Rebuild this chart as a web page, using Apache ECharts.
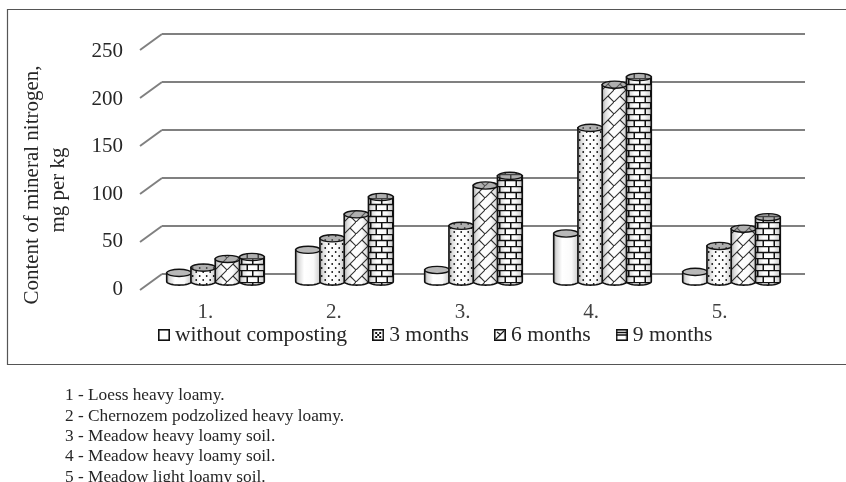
<!DOCTYPE html>
<html>
<head>
<meta charset="utf-8">
<style>html,body{margin:0;padding:0;background:#fff}#chart{width:846px;height:482px}</style>
<script src="https://cdn.jsdelivr.net/npm/echarts@6/dist/echarts.min.js"></script>
</head>
<body>
<div id="chart"></div>
<script>
// Mineral nitrogen content by soil type and composting duration
const soilIds = ['1.', '2.', '3.', '4.', '5.'];
const durations = ['without composting', '3 months', '6 months', '9 months'];
const withoutComposting = [9, 33, 12, 50, 10];
const threeMonths = [14.5, 45, 58, 160, 37];
const sixMonths = [23.5, 70, 100, 205, 55];
const nineMonths = [25.5, 88, 110, 213, 67];
const soilNotes = [
  '1 - Loess heavy loamy.',
  '2 - Chernozem podzolized heavy loamy.',
  '3 - Meadow heavy loamy soil.',
  '4 - Meadow heavy loamy soil.',
  '5 - Meadow light loamy soil.'
];
const noteRows = [395, 416, 436, 456, 477];
const yTicks = [0, 50, 100, 150, 200, 250];
const yTitleLines = ['Content of mineral nitrogen,', 'mg per kg'];
const yTitleCentres = [185, 190];

const SERIF = '"Liberation Serif", "Times New Roman", serif';

function tile(w, h, paint) {
  const c = document.createElement('canvas');
  c.width = w; c.height = h;
  const g = c.getContext('2d');
  g.fillStyle = '#fff';
  g.fillRect(0, 0, w, h);
  paint(g);
  return c;
}
function seg(g, pts) {
  g.beginPath();
  for (let i = 0; i < pts.length; i += 4) {
    g.moveTo(pts[i], pts[i + 1]);
    g.lineTo(pts[i + 2], pts[i + 3]);
  }
  g.stroke();
}
const dotTile = tile(7, 8, g => {
  g.fillStyle = '#111';
  g.beginPath(); g.arc(1.7, 2, 0.9, 0, 7); g.arc(5.2, 6, 0.9, 0, 7); g.fill();
});
const diagTile = tile(12, 12, g => {
  g.strokeStyle = '#333'; g.lineWidth = 1.1;
  seg(g, [-2, 14, 14, -2, 6, 6, 12, 12]);
});
const brickTile = tile(11, 12, g => {
  g.strokeStyle = '#111'; g.lineWidth = 1.5;
  seg(g, [0, 0.5, 11, 0.5, 0, 6.5, 11, 6.5, 2.75, 0, 2.75, 6.5, 8.25, 6.5, 8.25, 12]);
});
const patterns = [null, dotTile, diagTile, brickTile];

// Small legend swatches, each with its own reduced fill
function swatch(paint) {
  const c = tile(12, 12, g => {
    paint(g);
    g.strokeStyle = '#111'; g.lineWidth = 1.6;
    g.strokeRect(0.8, 0.8, 10.4, 10.4);
  });
  return 'image://' + c.toDataURL();
}
const swatches = [
  swatch(() => {}),
  swatch(g => { g.fillStyle = '#111'; g.fillRect(3, 3, 2, 2); g.fillRect(7, 3, 2, 2); g.fillRect(5, 5, 2, 2); g.fillRect(3, 7, 2, 2); g.fillRect(7, 7, 2, 2); }),
  swatch(g => { g.strokeStyle = '#111'; g.lineWidth = 1.1; seg(g, [2, 10, 10, 2, 3, 3, 7, 6]); }),
  swatch(g => { g.strokeStyle = '#111'; g.lineWidth = 1.4; seg(g, [1, 6, 11, 6, 1, 3.5, 11, 3.5]); })
];

const SHADE = {
  type: 'linear', x: 0, y: 0, x2: 1, y2: 0,
  colorStops: [
    { offset: 0, color: 'rgba(0,0,0,0.42)' },
    { offset: 0.14, color: 'rgba(0,0,0,0.14)' },
    { offset: 0.35, color: 'rgba(0,0,0,0)' },
    { offset: 0.7, color: 'rgba(0,0,0,0.02)' },
    { offset: 0.9, color: 'rgba(0,0,0,0.16)' },
    { offset: 1, color: 'rgba(0,0,0,0.45)' }
  ]
};

function cylinder(seriesIdx) {
  return function (params, api) {
    const band = api.size([1, 0])[0];
    const step = band * 0.188;
    const w = step + 0.6;
    const rx = w / 2, ry = 3.6;
    const base = api.coord([api.value(0), 0]);
    const top = api.coord([api.value(0), api.value(1)]);
    const cx = base[0] + (seriesIdx - 1.5) * step;
    const yB = base[1], yT = top[1];
    const outline = [[cx - rx, yT], [cx + rx, yT]];
    for (let i = 0; i <= 20; i++) {
      const a = Math.PI * i / 20;
      outline.push([cx + rx * Math.cos(a), yB + ry * Math.sin(a)]);
    }
    const img = patterns[seriesIdx];
    const fillFor = img
      ? { image: img, repeat: 'repeat', x: Math.round(cx - rx), y: Math.round(yB) }
      : '#fff';
    return {
      type: 'group',
      children: [
        { type: 'polygon', shape: { points: outline }, style: { fill: fillFor } },
        { type: 'polygon', shape: { points: outline }, style: { fill: SHADE, stroke: '#111', lineWidth: 1.6 } },
        { type: 'ellipse', shape: { cx: cx, cy: yT, rx: rx, ry: ry }, style: { fill: fillFor } },
        { type: 'ellipse', shape: { cx: cx, cy: yT, rx: rx, ry: ry },
          style: { fill: img ? 'rgba(110,110,110,0.55)' : '#b8b8b8', stroke: '#111', lineWidth: 1.4 } }
      ]
    };
  };
}

const valueSets = [withoutComposting, threeMonths, sixMonths, nineMonths];
const barSeries = durations.map((name, i) => ({
  name: name,
  type: 'custom',
  xAxisIndex: 1,
  yAxisIndex: 1,
  z: 5 + i,
  renderItem: cylinder(i),
  encode: { x: 0, y: 1 },
  clip: false,
  data: soilIds.map((s, k) => [s, valueSets[i][k]])
}));

// Slanted side-wall strokes running from each back gridline toward the tick labels
const wallSeries = {
  type: 'custom',
  xAxisIndex: 0,
  yAxisIndex: 0,
  z: 2,
  silent: true,
  legendHoverLink: false,
  clip: false,
  renderItem: function (params, api) {
    const p = api.coord([soilIds[0], api.value(0)]);
    const x0 = p[0] - api.size([1, 0])[0] / 2;
    return {
      type: 'line',
      shape: { x1: x0, y1: p[1], x2: x0 - 22, y2: p[1] + 16 },
      style: { stroke: '#808080', lineWidth: 2 }
    };
  },
  encode: { y: 0 },
  data: yTicks.map(v => [v])
};

const chart = echarts.init(document.getElementById('chart'));
chart.setOption({
  animation: false,
  backgroundColor: '#fff',
  textStyle: { fontFamily: SERIF },
  grid: [
    { left: 162, width: 643, top: 34, height: 240 },    // back wall
    { left: 151, width: 645, top: 41.5, height: 240 },  // floor plane holding the bars
    { left: 141, width: 643, top: 51.5, height: 238 }   // front edge with the tick labels
  ],
  xAxis: [
    { gridIndex: 0, type: 'category', data: soilIds, show: false },
    { gridIndex: 1, type: 'category', data: soilIds, show: false },
    {
      gridIndex: 2, type: 'category', data: soilIds,
      axisLine: { show: false }, axisTick: { show: false },
      axisLabel: { fontFamily: SERIF, fontSize: 21, color: '#404040', margin: 12 }
    }
  ],
  yAxis: [
    {
      gridIndex: 0, type: 'value', min: 0, max: 250, interval: 50,
      axisLine: { show: false }, axisTick: { show: false }, axisLabel: { show: false },
      splitLine: { show: true, lineStyle: { color: '#808080', width: 2 } }
    },
    { gridIndex: 1, type: 'value', min: 0, max: 250, interval: 50, show: false },
    {
      gridIndex: 2, type: 'value', min: 0, max: 250, interval: 50,
      axisLine: { show: false }, axisTick: { show: false }, splitLine: { show: false },
      axisLabel: { fontFamily: SERIF, fontSize: 21, color: '#262626', margin: 18 }
    }
  ],
  legend: {
    left: 158, top: 324, padding: 0,
    itemWidth: 12, itemHeight: 12, itemGap: 25,
    selectedMode: false,
    textStyle: { fontFamily: SERIF, fontSize: 21.6, color: '#262626' },
    data: durations.map((d, i) => ({ name: d, icon: swatches[i] }))
  },
  graphic: [
    {
      type: 'rect', silent: true, z: -1,
      shape: { x: 7.5, y: 9.5, width: 860, height: 355 },
      style: { fill: 'none', stroke: '#555', lineWidth: 1.2 }
    }
  ].concat(yTitleLines.map((t, i) => ({
    type: 'text', silent: true, rotation: Math.PI / 2, x: 32 + i * 26, y: yTitleCentres[i], z: 3,
    style: { text: t, fill: '#262626', font: '21px ' + SERIF, align: 'center', verticalAlign: 'middle' }
  }))).concat(soilNotes.map((t, i) => ({
    type: 'text', silent: true, x: 65, y: noteRows[i], z: 3,
    style: { text: t, fill: '#262626', font: '17.3px ' + SERIF, verticalAlign: 'middle' }
  }))),
  series: [wallSeries].concat(barSeries)
});
</script>
</body>
</html>
